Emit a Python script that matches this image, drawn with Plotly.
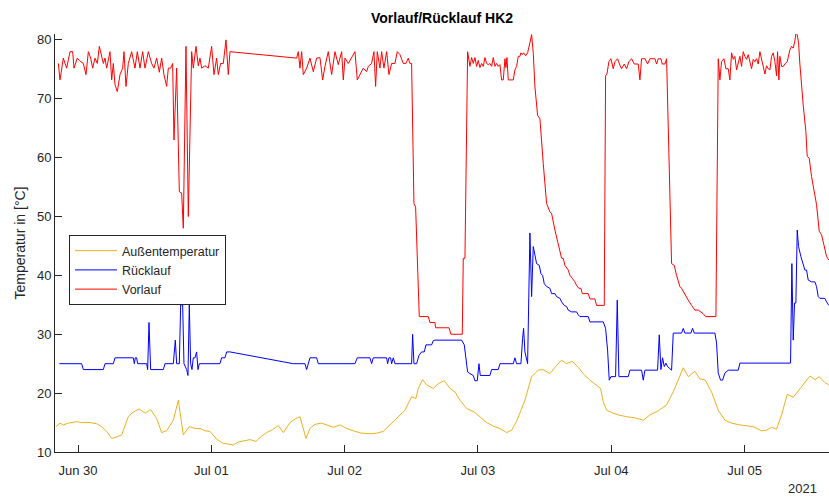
import plotly.graph_objects as go
import pandas as pd

BASE = pd.Timestamp("2021-06-30 00:00")

# Hours relative to 2021-06-30 00:00 and values (°C)
vorlauf_h = [-3.54,-3.24,-2.64,-2.04,-1.44,-0.96,-0.72,-0.12,0.24,0.96,1.44,1.86,2.28,2.64,3.06,3.48,3.84,4.26,4.56,4.86,
             5.16,5.76,6.06,6.36,6.66,7.08,7.56,8.04,8.28,8.64,9.06,9.66,10.26,10.68,11.16,11.64,12.06,12.66,13.26,13.68,
             14.16,14.64,15.06,15.48,15.96,16.26,16.68,17.04,17.28,17.76,18.24,18.66,18.96,19.44,19.86,20.46,20.76,21.24,21.66,21.96,
             22.26,22.86,23.46,24.06,24.48,24.96,25.26,25.68,26.16,26.64,27.06,27.36,
             39.36,39.66,39.96,40.26,40.56,41.16,41.76,42.36,42.96,43.56,44.04,44.46,45.06,45.66,46.26,46.86,47.46,47.76,48.06,48.66,
             49.26,49.86,50.28,50.76,51.36,51.96,52.26,52.86,53.28,53.58,53.88,54.36,54.66,55.08,55.56,55.98,56.46,57.06,57.48,57.96,
             58.56,59.04,59.46,59.76,60.06,60.48,60.78,61.44,63.06,63.36,64.26,64.38,66.66,66.78,67.14,69.18,69.36,69.66,70.14,
             70.56,70.86,71.16,71.46,71.76,72.06,72.36,72.66,72.96,73.26,73.56,73.86,74.16,74.46,74.76,75.06,75.36,75.66,75.96,76.26,
             76.56,76.86,77.04,77.22,77.46,78.36,78.66,78.96,79.26,79.56,79.74,79.98,80.22,80.58,80.94,81.36,81.66,81.96,82.26,82.74,
             83.16,83.76,84.36,84.96,85.26,85.86,86.46,87.06,87.36,87.66,88.26,88.56,88.98,89.46,89.76,90.18,90.54,90.78,91.86,92.16,
             93.06,93.36,94.74,94.98,95.22,95.34,95.58,95.94,96.36,96.66,97.14,97.56,97.86,98.34,98.76,99.18,99.66,100.14,100.86,101.16,
             101.46,102.06,102.54,102.96,103.86,104.16,104.46,104.94,105.18,105.66,105.96,106.86,107.34,107.76,108.36,108.66,109.26,109.86,110.46,111.06,
             111.66,112.56,112.98,114.66,114.84,115.26,115.56,115.86,116.28,116.64,117.06,117.36,117.66,117.96,118.26,118.56,118.86,119.16,119.46,119.76,
             120.06,120.36,120.66,120.96,121.26,121.56,121.86,122.16,122.46,122.76,123.06,123.36,123.66,123.96,124.26,124.56,124.86,125.16,125.46,125.76,
             125.94,126.18,126.36,126.66,126.96,127.26,127.68,128.16,128.46,128.76,129.06,129.24,129.48,129.72,129.96,130.56,131.04,131.28,131.64,132.06,
             132.66,132.96,133.44,133.86,134.28,134.76,135.18]
vorlauf_v = [76.0,73.2,76.9,75.2,78.0,78.0,75.2,76.9,76.5,76.0,74.1,78.0,76.9,75.2,76.9,76.0,78.9,76.9,76.0,76.9,
             75.2,78.0,73.2,76.0,72.4,71.2,74.1,75.2,78.0,72.1,76.0,78.0,75.2,78.0,75.2,78.0,75.2,78.0,76.0,75.2,
             76.9,74.5,76.9,74.1,72.1,75.2,75.2,76.0,63.0,75.2,54.2,54.0,48.0,78.9,50.0,78.0,75.2,78.9,75.6,76.9,
             75.2,75.6,75.2,78.9,74.1,76.9,74.1,76.0,76.0,80.0,74.1,78.0,
             76.9,78.0,75.2,78.0,74.1,75.2,76.9,74.6,76.9,77.0,73.2,75.5,78.0,74.1,78.0,75.8,78.0,73.2,76.9,76.0,
             76.9,78.0,73.2,74.1,75.2,74.6,75.5,76.0,78.0,72.1,78.0,75.2,78.0,75.2,78.0,74.1,76.0,76.0,78.0,77.5,
             76.0,76.0,76.9,76.0,76.0,52.2,51.6,33.0,33.0,32.0,32.0,31.1,31.1,31.1,30.0,30.0,42.9,42.9,78.0,
             75.5,77.0,76.0,77.0,75.5,76.5,75.3,76.0,75.5,77.0,76.0,75.8,76.0,75.5,77.0,75.5,76.0,75.5,75.8,73.2,
             73.2,76.8,75.3,77.0,73.2,73.2,74.9,75.5,77.2,77.2,77.8,77.5,77.8,77.3,77.8,79.5,80.9,77.8,72.0,67.2,
             66.6,59.0,52.2,50.8,50.5,47.7,45.4,42.9,42.9,41.7,40.9,40.0,39.5,38.9,38.3,37.8,37.8,36.9,36.9,36.0,
             36.0,34.9,34.9,73.9,74.2,74.8,76.3,76.8,75.1,76.3,76.8,75.7,75.1,75.9,75.1,76.3,76.8,75.9,75.9,73.2,
             76.8,76.8,75.9,76.8,76.8,75.9,76.8,76.8,75.9,75.9,76.8,42.0,41.7,40.0,38.1,37.8,36.7,35.8,34.9,34.1,
             34.1,33.5,33.0,33.0,33.0,76.8,73.2,76.3,76.8,75.1,75.1,73.2,77.8,76.7,77.2,74.9,76.0,77.2,75.5,78.0,
             77.2,76.7,77.5,76.3,75.1,76.7,76.3,76.8,75.9,78.0,76.7,75.9,74.2,75.6,75.1,74.9,77.2,77.8,76.3,73.9,
             78.0,73.2,77.2,75.5,75.5,75.9,76.3,78.3,78.9,78.6,79.8,81.1,80.9,79.5,75.9,68.9,64.4,60.2,59.9,56.8,
             53.1,52.0,47.5,46.9,45.2,43.2,42.6]

ruecklauf_h = [-3.36,0.66,0.96,4.56,4.86,6.36,6.66,9.96,10.14,10.32,10.56,10.74,12.36,12.54,12.78,13.08,15.36,15.66,17.16,17.52,
               17.76,18.24,18.48,18.84,19.08,19.32,19.56,19.80,20.04,20.28,20.52,20.76,21.06,21.36,21.60,21.84,25.56,25.86,26.46,26.76,
               27.36,38.76,40.86,41.16,41.46,41.76,42.96,43.26,49.86,50.28,52.56,52.86,53.16,55.56,55.74,55.98,56.28,56.46,56.76,57.06,
               60.06,60.24,60.48,60.96,61.38,61.86,62.34,62.64,63.66,63.96,64.26,69.06,69.54,69.78,70.14,70.56,71.16,71.46,71.88,72.18,
               72.42,74.16,74.46,75.66,75.96,78.36,78.66,78.96,79.74,80.04,80.22,80.46,80.76,80.94,81.36,81.66,81.96,82.26,82.56,83.04,
               83.34,83.64,83.94,84.36,84.96,85.26,85.86,86.16,86.76,87.06,87.54,87.96,88.26,88.86,89.76,90.06,90.36,91.86,92.16,94.56,
               94.98,95.34,95.64,95.94,96.78,97.08,97.38,99.06,99.36,101.46,101.76,102.06,104.34,104.64,104.94,105.24,105.54,105.84,106.14,106.86,
               107.16,108.66,108.96,109.26,110.34,110.64,110.94,114.66,114.96,115.26,115.68,116.04,116.46,117.06,118.86,119.16,128.28,128.52,128.76,129.00,
               129.24,129.48,129.72,130.14,130.56,130.86,131.16,131.46,132.06,132.66,132.96,133.26,133.56,134.46,134.76,135.18]
ruecklauf_v = [25,25,24,24,25,25,26,26,25,26,26,25,25,24,32,24,24,25,25,29,
               25,25,35,35,25,24.5,24,23,35,25,24,26,26,27,24,25,25,26,26,27,
               27,25,25,24,25,26,26,25,25,26,26,25,26,26,25,26,26,25,26,25,
               25,30,25,25,26.4,27,27,28.2,28.2,28.9,29,29,28.2,26,23.6,23.3,23.0,22.1,22.1,25,
               23,23,24,24,25,25,26,25,25,29.3,31,27,25.5,25,47.2,36.4,44.9,43.2,42.0,41.7,
               40.3,40.0,38.6,38.1,37.8,36.9,36.9,36.4,36.1,35.5,34.9,34.7,34.1,33.8,33.8,33.3,33.0,33.0,32.1,32.1,
               31.0,27.3,22.2,22.8,22.8,35.8,22.8,22.8,23.9,23.9,22.2,23.9,23.9,29.9,24.0,26.0,24.5,25.1,24.5,23.9,
               30.2,30.2,31.0,30.2,30.2,31.0,30.2,30.2,28.5,23.4,22.2,22.2,23.4,23.9,23.9,25.1,25.1,42.0,29.0,35.3,
               35.3,47.7,44.9,43.2,42.0,40.9,40.9,39.2,38.9,38.9,38.1,36.4,36.1,36.1,35.5,34.9]

aussen_h = [-3.96,-3.24,-2.64,-1.74,-0.24,0.66,2.16,3.36,4.26,5.16,6.06,6.84,7.86,9.06,9.96,11.04,12.06,13.08,14.16,15.06,
            15.96,17.16,18.06,18.96,20.04,21.06,21.96,22.86,23.76,24.96,26.04,27.06,27.96,28.86,30.06,30.96,32.04,33.06,33.96,35.04,
            36.06,36.96,38.16,39.06,39.96,41.04,41.76,42.66,43.86,44.76,45.96,47.16,48.36,49.86,51.06,52.56,53.76,54.96,56.16,57.36,
            58.86,60.06,60.84,61.26,62.04,62.76,63.96,64.86,65.94,66.96,67.86,68.76,69.96,71.46,72.36,73.56,74.76,75.96,77.16,78.06,
            78.96,80.46,81.66,82.86,83.76,84.96,86.16,87.06,87.96,88.98,90.06,90.96,92.16,93.36,94.08,94.56,95.16,96.06,97.26,98.76,
            100.26,101.76,102.96,104.46,105.96,107.16,108.06,108.96,109.86,111.06,111.96,112.86,114.06,115.26,116.46,117.66,119.16,120.36,121.56,123.06,
            123.96,124.86,125.76,126.66,127.68,128.76,130.26,131.76,132.66,133.44,134.46,135.18]
aussen_v = [14.3,14.9,14.6,14.9,15.15,15.0,15.0,14.8,14.3,13.5,12.3,12.5,12.9,16.0,16.8,17.3,16.6,17.2,15.7,13.3,
            13.6,15.4,18.8,12.9,14.3,14.0,14.0,13.6,13.5,12.2,11.5,11.4,11.2,11.7,12.0,12.1,11.8,12.7,13.3,13.8,
            14.5,13.3,15.0,15.6,16.0,12.3,14.0,14.7,14.9,14.6,14.2,14.6,14.0,13.5,13.2,13.1,13.2,13.5,14.6,15.7,
            17.1,19.4,19.1,20.8,22.3,21.4,20.8,21.6,22.1,20.8,20.2,18.8,17.4,16.7,16.0,15.0,14.4,14.0,13.3,13.7,
            15.2,18.8,22.8,23.9,24.0,23.3,24.7,25.6,25.0,25.4,24.4,23.3,22.2,21.4,20.8,18.5,17.1,16.7,16.3,16.0,
            15.8,15.4,16.3,17.0,18.0,20.2,22.3,24.3,22.8,23.7,22.4,22.3,20.2,17.1,15.4,14.9,14.6,14.4,14.3,13.6,
            13.7,14.2,13.9,16.3,19.8,19.3,21.1,22.9,22.3,22.8,21.8,21.4]

tick_days = ["2021-06-30", "2021-07-01", "2021-07-02", "2021-07-03", "2021-07-04", "2021-07-05"]
tick_labels = ["Jun 30", "Jul 01", "Jul 02", "Jul 03", "Jul 04", "Jul 05"]
y_ticks = [10, 20, 30, 40, 50, 60, 70, 80]


def to_time(hours):
    return [BASE + pd.Timedelta(hours=h) for h in hours]


fig = go.Figure()
fig.add_trace(go.Scatter(x=to_time(aussen_h), y=aussen_v, mode="lines", name="Außentemperatur",
                         line=dict(color="#EDB120", width=1)))
fig.add_trace(go.Scatter(x=to_time(ruecklauf_h), y=ruecklauf_v, mode="lines", name="Rücklauf",
                         line=dict(color="#0000FF", width=1)))
fig.add_trace(go.Scatter(x=to_time(vorlauf_h), y=vorlauf_v, mode="lines", name="Vorlauf",
                         line=dict(color="#FF0000", width=1)))

axis_col = "#262626"
font_fam = "Liberation Sans, Arial, Helvetica, sans-serif"

fig.update_layout(
    width=829, height=499,
    margin=dict(l=55, r=0, t=34, b=47, autoexpand=False),
    paper_bgcolor="white", plot_bgcolor="white",
    font=dict(family=font_fam, size=13, color=axis_col),
    title=dict(text="<b>Vorlauf/Rücklauf HK2</b>", x=442 / 829, xanchor="center", y=1 - 18 / 499, yanchor="middle",
               font=dict(size=14, color="black", family=font_fam)),
    showlegend=True,
    legend=dict(x=(69 - 55) / 774, y=(452 - 235) / 418, xanchor="left", yanchor="top",
                bordercolor=axis_col, borderwidth=1, bgcolor="white",
                font=dict(size=12.5, color=axis_col), tracegroupgap=0, itemwidth=42),
)
fig.update_xaxes(
    range=[BASE + pd.Timedelta(hours=-4.14), BASE + pd.Timedelta(hours=135.2)],
    tickvals=tick_days, ticktext=tick_labels, automargin=False,
    showgrid=False, zeroline=False, showline=True, linecolor=axis_col, linewidth=1,
    ticks="inside", ticklen=7, tickcolor=axis_col, tickfont=dict(size=13, color=axis_col),
    ticklabelstandoff=6,
)
fig.update_yaxes(
    range=[10, 81], tickvals=y_ticks, automargin=False,
    showgrid=False, zeroline=False, showline=True, linecolor=axis_col, linewidth=1,
    ticks="inside", ticklen=7, tickcolor=axis_col, tickfont=dict(size=13, color=axis_col),
    title=dict(text="Temperatur in [°C]", font=dict(size=14, color=axis_col), standoff=8),
)
fig.add_annotation(text="2021", xref="paper", yref="paper", x=(802 - 55) / 774, y=-(488 - 452) / 418,
                   showarrow=False, xanchor="center", yanchor="middle", font=dict(size=13, color=axis_col))

fig.write_html("out.html", config={"displayModeBar": False},
               post_script="document.body.style.margin='0';document.body.style.overflow='hidden';")
